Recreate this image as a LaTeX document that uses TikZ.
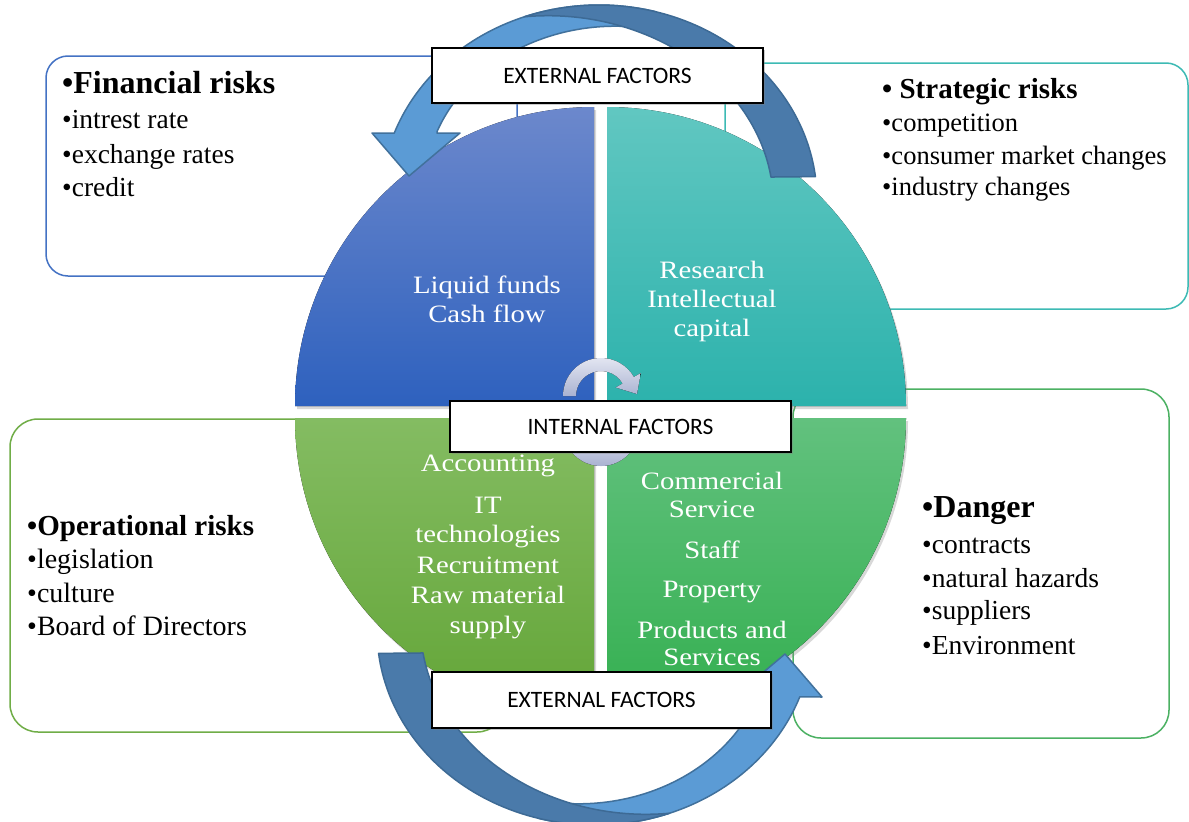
\documentclass[tikz,border=0pt]{standalone}
\usepackage{fontspec}
\setmainfont{Liberation Serif}
\newfontfamily\quadfont[FakeStretch=1.15]{Liberation Serif}
\newfontfamily\calibfont{Carlito}
\usetikzlibrary{shadows}
\definecolor{finborder}{HTML}{4472C4}
\definecolor{strborder}{HTML}{3DBAB4}
\definecolor{opborder}{HTML}{70AD47}
\definecolor{dgborder}{HTML}{4CB163}
\definecolor{arrowlight}{HTML}{5B9BD5}
\definecolor{arrowlightline}{HTML}{41719C}
\definecolor{arrowdark}{HTML}{4A7AAA}
\definecolor{arrowdarkline}{HTML}{3D6A95}
\definecolor{tlTop}{HTML}{6C88CC}
\definecolor{tlBot}{HTML}{2E61BE}
\definecolor{trTop}{HTML}{61C7C1}
\definecolor{trBot}{HTML}{2CB2AC}
\definecolor{blTop}{HTML}{84BC62}
\definecolor{blBot}{HTML}{63A537}
\definecolor{brTop}{HTML}{62C17E}
\definecolor{brBot}{HTML}{33AF4F}
\definecolor{smallTop}{HTML}{E2E5F1}
\definecolor{smallBot}{HTML}{A9B2D1}
\newcommand{\extring}{%
  \filldraw[fill=arrowlight, draw=arrowlightline, line width=1.5, line join=round]
    plot[domain=0:1, samples=60] ({599+218*cos(75+85*\x)}, {200-195*sin(75+85*\x)})
    -- (372,133) -- (409,176) -- (460,133) -- (437,133)
    -- plot[domain=0:1, samples=60] ({599+(180+20*\x)*cos(154-79*\x)}, {200-(157+20*\x)*sin(154-79*\x)})
    -- cycle;
  \filldraw[fill=arrowdark, draw=arrowdarkline, line width=1.5, line join=round]
    plot[domain=0:1, samples=70] ({599+218*cos(110-103.2*\x)}, {200-195*sin(110-103.2*\x)})
    -- plot[domain=0:1, samples=70] ({599+(174+44*\x*\x)*cos(8.75+101.25*\x)}, {200-(151+44*\x*\x)*sin(8.75+101.25*\x)})
    -- cycle;
}
\begin{document}
\begin{tikzpicture}[x=1pt, y=-1pt,
  riskbox/.style={line width=1.5, fill=white},
  quad/.style={drop shadow={opacity=0.3, shadow xshift=2pt, shadow yshift=-3pt}},
  factorbox/.style={draw=black, line width=1.2, fill=white, inner sep=0,
    font=\calibfont\fontsize{23.5}{28}\selectfont,
    drop shadow={opacity=0.4, shadow xshift=2pt, shadow yshift=-2pt}},
  item/.style={anchor=base west, inner sep=0, font=\fontsize{27.5}{33}\selectfont},
  head/.style={anchor=base west, inner sep=0, font=\bfseries\fontsize{32}{38}\selectfont},
  quadtext/.style={anchor=base, inner sep=0, text=white, font=\quadfont\fontsize{25}{30}\selectfont},
  smallarrow/.style={top color=smallTop, bottom color=smallBot}
]
\useasboundingbox (0,0) rectangle (1189,822);
\fill[white] (0,0) rectangle (1189,822);

% risk boxes (behind)
\draw[riskbox, draw=finborder, rounded corners=22] (46,56) rectangle (517,276);
\draw[riskbox, draw=strborder, rounded corners=22] (725,63) rectangle (1188,309);
\draw[riskbox, draw=opborder, rounded corners=28] (10,419) rectangle (505,732);
\draw[riskbox, draw=dgborder, rounded corners=28] (793,389) rectangle (1169,738);

% risk texts
\node[head] (finh) at (62,93) {•Financial risks};
\foreach \t/\yy [count=\i] in {intrest rate/128, exchange rates/163, credit/196}
  \node[item] (fin\i) at (62,\yy) {•\t};

\node[head, font=\bfseries\fontsize{29}{34}\selectfont] (strh) at (882,98) {• Strategic risks};
\foreach \t/\yy [count=\i] in {competition/131, consumer market changes/164, industry changes/195}
  \node[item, font=\fontsize{26.5}{32}\selectfont] (str\i) at (882,\yy) {•\t};

\node[head] (dgh) at (922,517) {•Danger};
\foreach \t/\yy [count=\i] in {contracts/553, natural hazards/587, suppliers/619, Environment/654}
  \node[item] (dg\i) at (922,\yy) {•\t};

\node[head, font=\bfseries\fontsize{29}{34}\selectfont] (oph) at (27,535) {•Operational risks};
\foreach \t/\yy [count=\i] in {legislation/568, culture/602, Board of Directors/635}
  \node[item, font=\fontsize{28}{33}\selectfont] (op\i) at (27,\yy) {•\t};

% quadrants
\fill[quad, top color=tlTop, bottom color=tlBot] (594,406) -- (295,406) arc[start angle=180, end angle=270, radius=299] -- cycle;
\fill[quad, top color=trTop, bottom color=trBot] (607,406) -- (607,107) arc[start angle=270, end angle=360, radius=299] -- cycle;
\fill[quad, top color=blTop, bottom color=blBot] (594,418) -- (594,717) arc[start angle=90, end angle=180, radius=299] -- cycle;
\fill[quad, top color=brTop, bottom color=brBot] (607,418) -- (906,418) arc[start angle=0, end angle=90, radius=299] -- cycle;

% quadrant texts
\foreach \t/\yy [count=\i] in {Liquid funds/293, Cash flow/322}
  \node[quadtext] (tl\i) at (487,\yy) {\t};
\foreach \t/\yy [count=\i] in {Research/278, Intellectual/307, capital/336}
  \node[quadtext] (tr\i) at (712,\yy) {\t};
\foreach \t/\yy [count=\i] in {Accounting/471, IT/513, technologies/542, Recruitment/573, Raw material/603, supply/633}
  \node[quadtext] (bl\i) at (488,\yy) {\t};
\foreach \t/\yy [count=\i] in {Commercial/489, Service/517, Staff/558, Property/597, Products and/638, Services/665}
  \node[quadtext] (br\i) at (712,\yy) {\t};

% small internal circular arrows
\fill[smallarrow] ({601-38},396) arc[start angle=180, end angle=330, radius=38]
  -- ({601+46*cos(330)},{396+46*sin(330)}) -- (637,394)
  -- ({601+17*cos(330)},{396+17*sin(330)}) -- ({601+25*cos(330)},{396+25*sin(330)})
  arc[start angle=330, end angle=180, radius=25] -- cycle;
\fill[smallarrow] ({601+38},428) arc[start angle=0, end angle=150, radius=38]
  -- ({601+46*cos(150)},{428+46*sin(150)}) -- (565,428)
  -- ({601+17*cos(150)},{428+17*sin(150)}) -- ({601+25*cos(150)},{428+25*sin(150)})
  arc[start angle=150, end angle=0, radius=25] -- cycle;

\node[factorbox, minimum width=341, minimum height=51] (internal) at (620.5,426.5) {INTERNAL FACTORS};

% external rings
\extring
\begin{scope}[rotate around={180:(597,415)}]
\extring
\end{scope}

\node[factorbox, minimum width=331, minimum height=55] (exttop) at (597.5,75.5) {EXTERNAL FACTORS};
\node[factorbox, minimum width=339, minimum height=56] (extbot) at (601.5,700) {EXTERNAL FACTORS};
\end{tikzpicture}
\end{document}
